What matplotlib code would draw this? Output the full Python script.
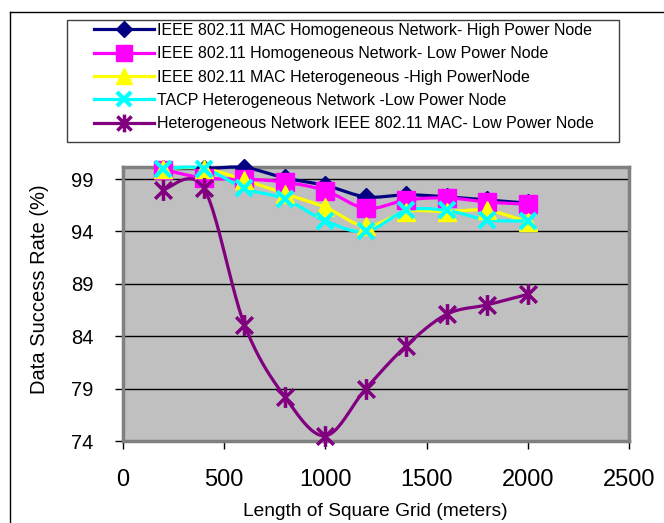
import numpy as np
import matplotlib
matplotlib.use("Agg")
import matplotlib.pyplot as plt
from matplotlib.path import Path
from matplotlib.patches import Rectangle
from matplotlib.lines import Line2D

plt.rcParams['font.family'] = ['Liberation Sans', 'DejaVu Sans']

# ---------------- data ----------------
grid_len = [200, 400, 600, 800, 1000, 1200, 1400, 1600, 1800, 2000]
mac_homo_high = [100.0, 100.0, 100.1, 99.1, 98.4, 97.3, 97.5, 97.3, 97.0, 96.7]
homo_low = [99.9, 99.1, 99.0, 98.7, 97.9, 96.2, 97.0, 97.2, 96.8, 96.6]
mac_hetero_high = [100.0, 100.0, 98.9, 97.6, 96.3, 94.5, 95.9, 95.9, 96.0, 94.9]
tacp_hetero_low = [100.0, 100.0, 98.1, 97.1, 95.0, 94.0, 96.0, 96.0, 95.1, 95.0]
hetero_mac_low = [98.0, 98.1, 85.1, 78.2, 74.5, 79.0, 83.1, 86.1, 87.0, 88.0]

labels = [
    "IEEE 802.11 MAC Homogeneous Network- High Power Node",
    "IEEE 802.11 Homogeneous Network- Low Power Node",
    "IEEE 802.11 MAC Heterogeneous -High PowerNode",
    "TACP Heterogeneous Network -Low Power Node",
    "Heterogeneous Network IEEE 802.11 MAC- Low Power Node",
]
x_ticks = [0, 500, 1000, 1500, 2000, 2500]
y_ticks = [74, 79, 84, 89, 94, 99]


def smooth(xs, ys, n=24):
    """Excel-like smoothed line (Catmull-Rom / Bezier)."""
    xs = np.asarray(xs, float)
    ys = np.asarray(ys, float)
    P = np.column_stack([xs, ys])
    out = []
    for i in range(len(P) - 1):
        p0 = P[i - 1] if i > 0 else P[i]
        p1 = P[i]
        p2 = P[i + 1]
        p3 = P[i + 2] if i + 2 < len(P) else P[i + 1]
        c1 = p1 + (p2 - p0) / 6.0
        c2 = p2 - (p3 - p1) / 6.0
        t = np.linspace(0, 1, n)[:, None]
        seg = ((1 - t) ** 3) * p1 + 3 * ((1 - t) ** 2) * t * c1 + 3 * (1 - t) * t ** 2 * c2 + t ** 3 * p2
        out.append(seg if i == 0 else seg[1:])
    arr = np.vstack(out)
    return arr[:, 0], arr[:, 1]


star_marker = Path(
    [(0, -1), (0, 1), (-0.8, -0.8), (0.8, 0.8), (-0.8, 0.8), (0.8, -0.8)],
    [Path.MOVETO, Path.LINETO, Path.MOVETO, Path.LINETO, Path.MOVETO, Path.LINETO],
)

series = [
    (mac_homo_high, "#000080", dict(marker="D", ms=9, mec="#000080", mfc="#000080", mew=1)),
    (homo_low, "#FF00FF", dict(marker="s", ms=13, mec="#FF00FF", mfc="#FF00FF", mew=1)),
    (mac_hetero_high, "#FFFF00", dict(marker="^", ms=13, mec="#FFFF00", mfc="#FFFF00", mew=1)),
    (tacp_hetero_low, "#00FFFF", dict(marker="x", ms=12, mec="#00FFFF", mew=3)),
    (hetero_mac_low, "#800080", dict(marker=star_marker, ms=15, mec="#800080", mfc="none", mew=2.5)),
]

W, H = 664, 523
fig = plt.figure(figsize=(W / 100, H / 100), dpi=100)
fig.patch.set_facecolor("white")

ax = fig.add_axes([123 / W, 1 - 441 / H, 506 / W, 274 / H])
ax.set_facecolor("#C0C0C0")

handles = []
for ys, col, mk in series:
    sx, sy = smooth(grid_len, ys)
    ax.plot(sx, sy, color=col, lw=2.3, zorder=3, solid_capstyle="round", clip_on=False)
    ax.plot(grid_len, ys, ls="none", zorder=4, clip_on=False, **mk)
    hmk = dict(mk)
    hmk["ms"] = mk["ms"] * 0.85
    handles.append(Line2D([0], [0], color=col, lw=2.3, **hmk))

ax.set_xlim(0, 2500)
ax.set_ylim(74, 100.15)
ax.set_xticks(x_ticks)
ax.set_yticks(y_ticks)
ax.set_xticklabels([str(v) for v in x_ticks], fontsize=17)
ax.set_yticklabels([str(v) for v in y_ticks], fontsize=14.5)
ax.tick_params(axis="both", direction="out", length=6, width=1, color="black")
ax.tick_params(axis="x", pad=14)
ax.tick_params(axis="y", pad=15)
ax.yaxis.grid(True, color="black", lw=1)
ax.set_axisbelow(True)
for side in ["top", "right", "left", "bottom"]:
    ax.spines[side].set_color("#808080")
    ax.spines[side].set_linewidth(2.5)

ax.set_xlabel("Length of Square Grid (meters)", fontsize=13.8, va="center")
ax.xaxis.set_label_coords(0.499, (441 - 511) / 274)
ax.set_ylabel("Data Success Rate (%)", fontsize=14.5, va="center")
ax.yaxis.set_label_coords((40 - 123) / 506, (441 - 289) / 274)

# outer chart border (top and left)
fig.add_artist(Line2D([10 / W, 1], [1 - 12 / H, 1 - 12 / H], transform=fig.transFigure, color="black", lw=1))
fig.add_artist(Line2D([10 / W, 10 / W], [0, 1 - 12 / H], transform=fig.transFigure, color="black", lw=1))

# legend box
fig.add_artist(Rectangle((67 / W, 1 - 142 / H), (619 - 67) / W, 122 / H, transform=fig.transFigure,
                         facecolor="white", edgecolor="#404040", lw=1, zorder=1))
leg = fig.legend(handles, labels, loc="upper left", bbox_to_anchor=(94 / W, 1 - 23 / H),
                 frameon=False, fontsize=11.5, handlelength=3.75, handletextpad=0.2,
                 labelspacing=0.52, borderpad=0, borderaxespad=0)
leg.set_zorder(2)

fig.savefig("out.png", dpi=100)
